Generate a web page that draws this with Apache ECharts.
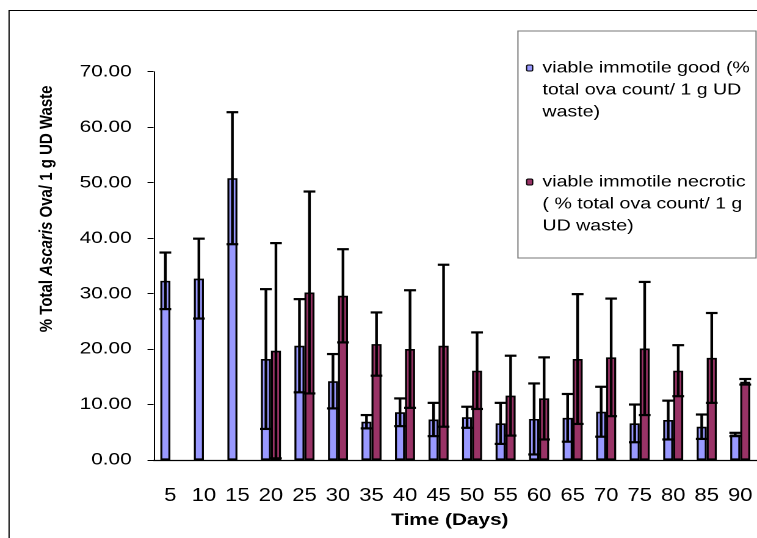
<!DOCTYPE html>
<html>
<head>
<meta charset="utf-8">
<script src="https://cdn.jsdelivr.net/npm/echarts@6.0.0/dist/echarts.min.js"></script>
<style>
  html, body { margin: 0; padding: 0; background: #fff; overflow: hidden; }
  /* the reference is stretched sideways, so draw narrow and scale in x */
  #main { width: 620px; height: 538px; transform: scaleX(1.22097); transform-origin: 0 0; }
</style>
</head>
<body>
<div id="main"></div>
<script>
// data
const days = ["5", "10", "15", "20", "25", "30", "35", "40", "45", "50", "55", "60", "65", "70", "75", "80", "85", "90"];
const good = [32.3, 32.7, 50.8, 18.2, 20.6, 14.2, 6.9, 8.6, 7.3, 7.7, 6.6, 7.4, 7.6, 8.7, 6.6, 7.2, 6.0, 4.6];
const goodErr = [5.1, 7.2, 11.9, 12.6, 8.4, 4.9, 1.2, 2.5, 3.0, 1.9, 3.7, 6.4, 4.3, 4.5, 3.4, 3.5, 2.2, 0.3];
const necrotic = [null, null, null, 19.7, 30.2, 29.6, 20.9, 20.0, 20.6, 16.1, 11.6, 11.1, 18.2, 18.5, 20.1, 16.1, 18.4, 14.1];
const necroticErr = [null, null, null, 19.4, 18.2, 8.4, 5.7, 10.6, 14.6, 6.9, 7.2, 7.4, 11.7, 10.6, 12.0, 4.6, 8.1, 0.5];
const yTicks = [0, 10, 20, 30, 40, 50, 60, 70];

const goodName = "viable immotile good (% total ova count/ 1 g UD waste)";
const necroticName = "viable immotile necrotic ( % total ova count/ 1 g UD waste)";
const legendLines = {};
legendLines[goodName] = ["viable immotile good (%", "total ova count/ 1 g UD", "waste)"];
legendLines[necroticName] = ["viable immotile necrotic", "( % total ova count/ 1 g", "UD waste)"];

const font = "'Liberation Sans', Arial, sans-serif";
const barW = 8.2;
const capHalf = 4.8;

// error bars drawn with a custom series, shifted onto each bar
function errorSeries(name, vals, errs, offset) {
  const data = [];
  vals.forEach(function (v, i) {
    if (v != null) data.push([i, v, errs[i]]);
  });
  return {
    name: name,
    type: "custom",
    silent: true,
    z: 10,
    encode: { x: 0, y: 1 },
    data: data,
    renderItem: function (params, api) {
      const idx = api.value(0);
      const v = api.value(1);
      const e = api.value(2);
      const top = api.coord([idx, v + e]);
      const bot = api.coord([idx, v - e]);
      const x = top[0] + offset;
      const style = { stroke: "#000", lineWidth: 2.2 };
      return {
        type: "group",
        children: [
          { type: "line", shape: { x1: x, y1: top[1], x2: x, y2: bot[1] }, style: style },
          { type: "line", shape: { x1: x - capHalf, y1: top[1], x2: x + capHalf, y2: top[1] }, style: style },
          { type: "line", shape: { x1: x - capHalf, y1: bot[1], x2: x + capHalf, y2: bot[1] }, style: style }
        ]
      };
    }
  };
}

const myChart = echarts.init(document.getElementById("main"), null, { devicePixelRatio: 2 });
const option = {
  animation: false,
  textStyle: { fontFamily: font, color: "#000" },
  graphic: [
    {
      // outer chart frame
      type: "rect", z: -10, silent: true,
      shape: { x: 7.4, y: 10.5, width: 900, height: 900 },
      style: { fill: "#fff", stroke: "#000", lineWidth: 1 }
    },
    {
      // legend box
      type: "rect", z: 1, silent: true,
      shape: { x: 424.2, y: 31, width: 195, height: 227 },
      style: { fill: "#fff", stroke: "#777", lineWidth: 1 }
    }
  ],
  legend: {
    orient: "vertical",
    left: 430.8,
    top: 13,
    padding: 0,
    z: 5,
    itemGap: 4,
    itemWidth: 5,
    itemHeight: 6,
    selectedMode: false,
    data: [goodName, necroticName],
    itemStyle: { borderColor: "#000", borderWidth: 1 },
    // two blank lines first so the icon sits on the first text line
    formatter: function (name) { return "\n\n" + legendLines[name].join("\n"); },
    textStyle: { fontFamily: font, fontSize: 16, lineHeight: 22, color: "#000", padding: [0, 0, 0, 3] }
  },
  grid: { left: 125.8, top: 71.7, width: 501.3, height: 388.3 },
  xAxis: {
    type: "category",
    data: days,
    name: "Time (Days)",
    nameLocation: "middle",
    nameGap: 52,
    nameTextStyle: { fontFamily: font, fontSize: 17, fontWeight: "bold", color: "#000", padding: [0, 9, 0, 0] },
    axisLine: { lineStyle: { color: "#000", width: 1.3 } },
    axisTick: { length: 5, lineStyle: { color: "#777" } },
    axisLabel: { fontSize: 18, color: "#000", margin: 27, interval: 0 }
  },
  yAxis: {
    type: "value",
    min: yTicks[0],
    max: yTicks[yTicks.length - 1],
    interval: 10,
    name: "{b|% Total }{i|Ascaris}{b| Ova/ 1 g UD Waste}",
    nameLocation: "middle",
    nameGap: 80,
    nameTextStyle: {
      fontFamily: font, fontSize: 15, fontWeight: "bold", color: "#000",
      padding: [0, 0, 0, 114],
      rich: {
        b: { fontFamily: font, fontSize: 15, fontWeight: "bold", color: "#000" },
        i: { fontFamily: font, fontSize: 15, fontWeight: "bold", fontStyle: "italic", color: "#000" }
      }
    },
    axisLine: { show: true, lineStyle: { color: "#000", width: 1 } },
    axisTick: { show: true, length: 5, lineStyle: { color: "#000" } },
    splitLine: { show: false },
    axisLabel: {
      fontSize: 17, color: "#000", margin: 18,
      formatter: function (v) { return v.toFixed(2); }
    }
  },
  series: [
    {
      name: goodName, type: "bar", data: good, barWidth: barW, barGap: "0%",
      itemStyle: { color: "#9999ff", borderColor: "#000", borderWidth: 1.6 }
    },
    {
      name: necroticName, type: "bar", data: necrotic, barWidth: barW, barGap: "0%",
      itemStyle: { color: "#993366", borderColor: "#000", borderWidth: 1.6 }
    },
    errorSeries("err-good", good, goodErr, -barW / 2),
    errorSeries("err-necrotic", necrotic, necroticErr, barW / 2)
  ]
};
myChart.setOption(option);
</script>
</body>
</html>
